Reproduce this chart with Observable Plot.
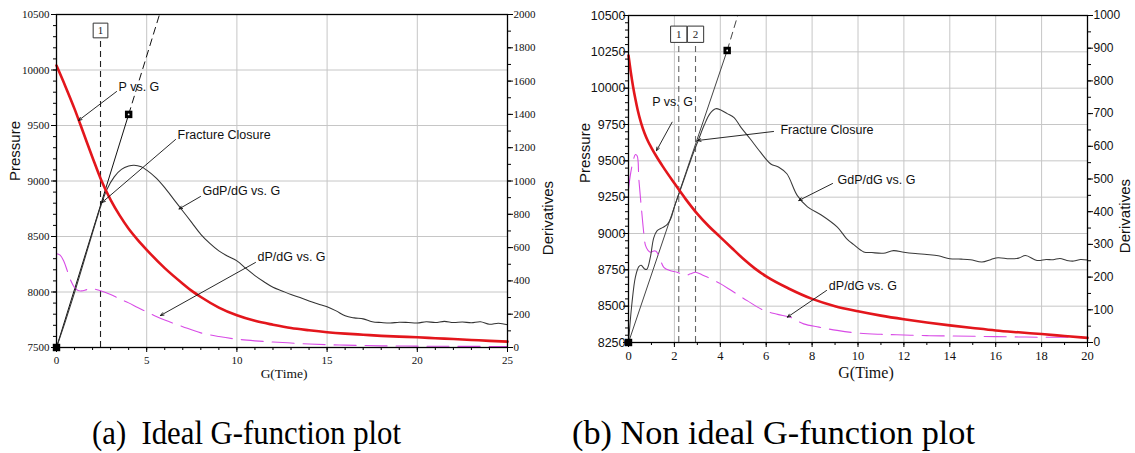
<!DOCTYPE html>
<html><head><meta charset="utf-8">
<script src="https://cdn.jsdelivr.net/npm/d3@7"></script>
<script src="https://cdn.jsdelivr.net/npm/@observablehq/plot@0.6"></script>
<style>
body{margin:0;background:#fff;}
#wrap{position:relative;width:1135px;height:453px;overflow:hidden;background:#fff;}
#a{position:absolute;left:0;top:0;}
#b{position:absolute;left:567px;top:0;}
#cap{position:absolute;left:0;top:400px;}
</style></head><body>
<div id="wrap"><div id="a"></div><div id="b"></div><svg id="cap" width="1135" height="53"></svg></div>
<script>
// ---------- Panel (a) data ----------
const pressureA_G = [0,0.5,1,1.5,2,2.5,3,3.5,4,4.5,5,6,7,7.5,8,9,10,11,12,13,14,15,16,17,18,19,20,21,22,23,24,25];
const pressureA   = [10040,9850,9650,9430,9210,9000,8830,8690,8570,8470,8380,8215,8075,8010,7955,7860,7790,7740,7705,7675,7655,7638,7625,7615,7605,7598,7592,7584,7576,7568,7560,7553];
const gdpA_G = [0,0.5,1,1.5,2,2.5,2.8,3.2,3.6,4,4.3,4.7,5,5.5,6,6.5,7,7.5,8,8.5,9,9.5,10,10.5,11,11.5,12,12.5,13,13.5,14,14.5,15,15.5,16,16.5,17,17.5,18,18.5,19,19.5,20,20.5,21,21.5,22,22.5,23,23.5,24,24.5,25];
const gdpA   = [0,160,330,510,690,865,950,1025,1070,1090,1095,1085,1065,1020,960,890,820,750,680,625,580,548,520,475,432,395,362,340,318,300,280,262,245,220,190,178,172,155,150,147,152,150,147,155,150,157,150,153,149,155,140,146,136];
const dpA_G = [0,0.2,0.4,0.6,0.8,1,1.2,1.4,1.7,2,2.4,3,3.5,4,4.5,5,5.5,6,7,8,9,10,11,12,13,14,15,16,17,18,19,20,22,25];
const dpA   = [563,555,520,460,400,360,342,340,348,352,342,318,292,268,240,214,188,165,125,88,66,50,40,33,27,21,17,14,12,10,9,8,7,6];
const tangentA_G = [0,4], tangentA = [0,1400];
const tangentExtA_G = [4,5.71], tangentExtA = [1400,2000];
const squaresA_G = [0,4], squaresA = [0,1400];
const closureA_G = [2.44], closureA_lab = ["1"];
const annotA = [
  {label:"P vs. G",          tx:3.44, ty:9851, x1:3.33, y1:9806, x2:1.22, y2:9545},
  {label:"Fracture Closure", tx:6.71, ty:9410, x1:6.60, y1:9374, x2:2.52, y2:8806},
  {label:"GdP/dG vs. G",     tx:8.09, ty:8914, x1:7.98, y1:8860, x2:6.79, y2:8748},
  {label:"dP/dG vs. G",      tx:11.14,ty:8311, x1:11.03,y1:8266, x2:5.76, y2:7788}
];
const xTicksA = [0,5,10,15,20,25];
const xMinorA = d3.range(0,26,1);
const yTicksA = [7500,8000,8500,9000,9500,10000,10500];
const yMinorA = d3.range(7500,10501,100);
const dTicksA = [0,200,400,600,800,1000,1200,1400,1600,1800,2000];
const dMinorA = d3.range(0,2001,100);

// ---------- Panel (b) data ----------
const pressureB_G = [0,0.1,0.2,0.3,0.4,0.55,0.7,0.85,1,1.2,1.5,2,2.5,3,3.5,4,4.5,5,5.5,6,7,8,9,10,11,12,13,14,15,16,17,18,19,20];
const pressureB   = [10225,10110,10010,9925,9850,9760,9690,9635,9590,9535,9460,9345,9235,9135,9050,8975,8900,8826,8760,8705,8620,8550,8500,8465,8435,8410,8388,8368,8350,8333,8320,8308,8295,8282];
const gdpB_G = [0,0.15,0.3,0.45,0.55,0.7,0.8,0.95,1.1,1.25,1.5,1.7,1.85,2,2.2,2.5,2.8,3.05,3.3,3.55,3.8,4,4.3,4.6,4.9,5.3,5.75,6.2,6.55,6.9,7.35,7.8,8.4,9.1,9.5,9.8,10.25,10.6,11.1,11.55,12,12.5,13,13.5,14,14.5,14.9,15.4,15.8,16.1,16.6,17,17.3,17.8,18.2,18.5,18.8,19.1,19.4,19.7,20];
const gdpB   = [0,120,200,232,236,225,224,260,320,342,352,362,380,415,455,515,575,620,665,700,715,712,700,688,658,623,582,546,536,516,450,415,390,353,318,300,277,275,273,281,276,272,269,265,256,255,253,246,254,259,256,258,266,251,254,253,257,251,249,254,252];
const dpB_G = [0,0.1,0.2,0.3,0.38,0.45,0.55,0.67,0.74,0.85,0.96,1.1,1.2,1.35,1.54,1.8,2.12,2.48,2.7,2.92,3.2,3.43,4,4.5,5.17,5.9,6.5,7.06,7.63,8.3,9.09,9.96,11,12,13,14,15,16,17,18,19,20];
const dpB   = [470,520,555,575,570,500,420,332,297,282,276,280,279,260,230,220,215,205,210,215,207,200,180,158,128,98,86,77,57,47,37,29,25,23,21,20,19,18,17,16,16,15];
const tangentB_G = [0,4.3], tangentB = [0,893];
const tangentExtB_G = [4.3,4.76], tangentExtB = [893,1000];
const squaresB_G = [0,4.3], squaresB = [0,893];
const closureB_G = [2.19,2.92], closureB_lab = ["1","2"];
const annotB = [
  {label:"P vs. G",          tx:1.03, ty:9903, x1:1.90, y1:9766, x2:1.22, y2:9570},
  {label:"Fracture Closure", tx:6.62, ty:9709, x1:6.32, y1:9702, x2:3.01, y2:9640},
  {label:"GdP/dG vs. G",     tx:9.11, ty:9365, x1:8.89, y1:9344, x2:7.42, y2:9227},
  {label:"dP/dG vs. G",      tx:8.73, ty:8642, x1:8.63, y1:8608, x2:6.92, y2:8424}
];
const xTicksB = d3.range(0,21,2);
const xMinorB = d3.range(0,21,1);
const yTicksB = d3.range(8250,10501,250);
const yMinorB = d3.range(8250,10501,50);
const dTicksB = d3.range(0,1001,100);
const dMinorB = d3.range(0,1001,50);

const captions = ["(a)  Ideal G-function plot", "(b) Non ideal G-function plot"];

// ---------- builder ----------
function rows(g, v, f = x => x) { return g.map((x, i) => ({g: x, v: f(v[i])})); }

function panel(c) {
  const toP = d => c.p0 + d * c.k;
  const fromP = p => Math.round((p - c.p0) / c.k);
  const grid = "#c6c6c6";
  return Plot.plot({
    width: c.width, height: 400,
    marginLeft: c.ml, marginRight: c.mr, marginTop: c.mt, marginBottom: c.mb,
    x: {domain: c.xDomain},
    y: {domain: c.yDomain},
    style: {background: "transparent", overflow: "visible"},
    marks: [
      Plot.gridX(c.xGrid, {stroke: grid, strokeOpacity: 1, strokeWidth: 1}),
      Plot.gridY(c.yGrid, {stroke: grid, strokeOpacity: 1, strokeWidth: 1}),
      Plot.ruleX(c.closureG, {x: d => d, y1: c.yDomain[0], y2: c.lineTop, stroke: c.closureStroke, strokeWidth: 1.1, strokeDasharray: "6,4"}),
      Plot.line(rows(c.tanG, c.tan, toP), {x: "g", y: "v", stroke: c.tanStroke, strokeWidth: 1}),
      Plot.line(rows(c.tanExtG, c.tanExt, toP), {x: "g", y: "v", stroke: c.tanStroke, strokeWidth: 1, strokeDasharray: "7,5"}),
      Plot.line(rows(c.dpG, c.dp, toP), {x: "g", y: "v", stroke: "#d84be6", strokeWidth: 1.1, strokeDasharray: "22,9", curve: "catmull-rom"}),
      Plot.line(rows(c.gdpG, c.gdp, toP), {x: "g", y: "v", stroke: c.gdpStroke, strokeWidth: 1.05, curve: "catmull-rom"}),
      Plot.line(rows(c.pG, c.p), {x: "g", y: "v", stroke: "#e3161c", strokeWidth: 2.6, curve: "monotone-x"}),
      Plot.dot(rows(c.sqG, c.sq, toP), {x: "g", y: "v", symbol: "square", r: 4.2, fill: "#000", stroke: "none"}),
      Plot.dot(rows(c.sqG.slice(1), c.sq.slice(1), toP), {x: "g", y: "v", r: 0.9, fill: "#fff", stroke: "none"}),
      Plot.dot(c.closureG, {x: d => d, y: () => c.boxY, symbol: "square", r: c.boxR, fill: "#fff", stroke: "#333", strokeWidth: 1}),
      Plot.text(c.closureG, {x: d => d, y: () => c.boxY, text: (d, i) => c.closureLab[i], fontFamily: "Liberation Serif", fontSize: 11, fill: "#222"}),
      Plot.arrow(c.annot, {x1: "x1", y1: "y1", x2: "x2", y2: "y2", stroke: "#111", strokeWidth: 0.9, headLength: 6, headAngle: 45}),
      Plot.text(c.annot, {x: "tx", y: "ty", text: "label", textAnchor: "start", fontFamily: "Liberation Sans", fontSize: 12.5, fill: "#111"}),
      Plot.frame({stroke: "#000", strokeWidth: 1.3}),
      Plot.axisX(c.xMinor, {anchor: "bottom", tickSize: 3, tickFormat: () => "", label: null, stroke: "#000"}),
      Plot.axisX(c.xTicks, {anchor: "bottom", tickSize: 5, tickPadding: 4, label: null, fontFamily: "Liberation Serif", fontSize: c.xFont, fill: "#111", stroke: "#000"}),
      Plot.axisY(c.yMinor, {anchor: "left", tickSize: 3, tickFormat: () => "", label: null, stroke: "#000"}),
      Plot.axisY(c.yTicks, {anchor: "left", tickSize: 5, tickPadding: c.yPad, label: null, tickFormat: d => String(d), fontFamily: c.yFamily, fontSize: c.yFont, fill: "#111", stroke: "#000"}),
      Plot.axisY(c.dMinor.map(toP), {anchor: "right", tickSize: 3, tickFormat: () => "", label: null, stroke: "#000"}),
      Plot.axisY(c.dTicks.map(toP), {anchor: "right", tickSize: 5, tickPadding: 1, label: null, tickFormat: p => String(fromP(p)), fontFamily: c.yFamily, fontSize: c.dFont, fill: "#111", stroke: "#000"}),
      Plot.text(["Pressure"], {frameAnchor: "left", dx: c.pdx, dy: c.pdy, rotate: -90, fontFamily: "Liberation Sans", fontSize: 15, fill: "#111"}),
      Plot.text(["Derivatives"], {frameAnchor: "right", dx: c.ddx, rotate: -90, fontFamily: "Liberation Sans", fontSize: 15, fill: "#111"}),
      Plot.text(["G(Time)"], {frameAnchor: "bottom", dx: c.gdx, dy: c.gdy, fontFamily: "Liberation Serif", fontSize: c.gFont, fill: "#111"})
    ]
  });
}

const plotA = panel({
  width: 567, ml: 56, mr: 60, mt: 14, mb: 53,
  xDomain: [0,25], yDomain: [7500,10500], p0: 7500, k: 1.5,
  xGrid: [5,10,15,20], yGrid: [8000,8500,9000,9500,10000],
  pG: pressureA_G, p: pressureA, gdpG: gdpA_G, gdp: gdpA, dpG: dpA_G, dp: dpA,
  tanG: tangentA_G, tan: tangentA, tanExtG: tangentExtA_G, tanExt: tangentExtA,
  sqG: squaresA_G, sq: squaresA,
  closureG: closureA_G, closureLab: closureA_lab, boxY: 10356, boxR: 8.3, lineTop: 10300,
  closureStroke: "#222", tanStroke: "#111", gdpStroke: "#333",
  annot: annotA,
  xTicks: xTicksA, xMinor: xMinorA, yTicks: yTicksA, yMinor: yMinorA, dTicks: dTicksA, dMinor: dMinorA,
  xFont: 11, yFont: 11, dFont: 11, yFamily: "Liberation Serif", yPad: 2,
  pdx: -41, pdy: 0, ddx: 41, gdx: 2, gdy: 30, gFont: 13.5
});
const plotB = panel({
  width: 568, ml: 61, mr: 48, mt: 15, mb: 58,
  xDomain: [0,20], yDomain: [8250,10500], p0: 8250, k: 2.25,
  xGrid: [2,4,6,8,10,12,14,16,18], yGrid: [8500,8750,9000,9250,9500,9750,10000,10250],
  pG: pressureB_G, p: pressureB, gdpG: gdpB_G, gdp: gdpB, dpG: dpB_G, dp: dpB,
  tanG: tangentB_G, tan: tangentB, tanExtG: tangentExtB_G, tanExt: tangentExtB,
  sqG: squaresB_G, sq: squaresB,
  closureG: closureB_G, closureLab: closureB_lab, boxY: 10371, boxR: 9.2, lineTop: 10328,
  closureStroke: "#666", tanStroke: "#444", gdpStroke: "#3a3a3a",
  annot: annotB,
  xTicks: xTicksB, xMinor: xMinorB, yTicks: yTicksB, yMinor: yMinorB, dTicks: dTicksB, dMinor: dMinorB,
  xFont: 12.5, yFont: 12.5, dFont: 12, yFamily: "Liberation Sans", yPad: -2,
  pdx: -43, pdy: 4, ddx: 38, gdx: 8, gdy: 35, gFont: 16
});
document.getElementById("a").appendChild(plotA);
document.getElementById("b").appendChild(plotB);

const cap = d3.select("#cap");
[[92, 309], [572, 403]].forEach(([x, len], i) => {
  cap.append("text").attr("x", x).attr("y", 44)
    .attr("textLength", len).attr("lengthAdjust", "spacingAndGlyphs")
    .style("white-space", "pre")
    .attr("font-family", "Liberation Serif").attr("font-size", 33).attr("fill", "#000")
    .text(captions[i]);
});
</script>
</body></html>
